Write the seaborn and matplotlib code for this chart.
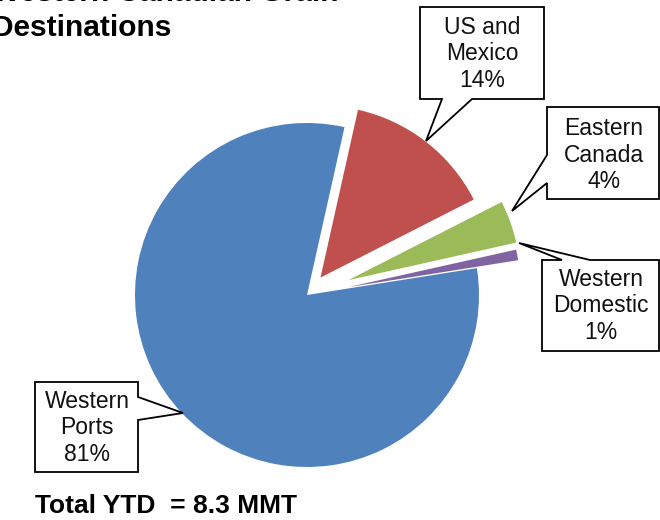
import matplotlib
matplotlib.use("Agg")
import matplotlib.pyplot as plt
from matplotlib.patches import Polygon
import seaborn as sns

# ---- data ----
categories = ["Western Ports", "US and Mexico", "Eastern Canada", "Western Domestic"]
shares = [81, 14, 4, 1]
label_lines = ["Western\nPorts", "US and\nMexico", "Eastern\nCanada", "Western\nDomestic"]
title_lines = ["Western Canadian Grain", "Destinations"]
total_text = "Total YTD  = 8.3 MMT"

sns.set_theme(style="white")
plt.rcParams["font.family"] = ["Liberation Sans", "DejaVu Sans"]

W, H = 660, 520
fig = plt.figure(figsize=(W / 100, H / 100), dpi=100)
ax = fig.add_axes([0, 0, 1, 1])

def Y(y):
    return H - y

colors = ["#4F81BD", "#C0504D", "#9BBB59", "#8064A2"]
explode = [0, 22, 44, 42]

ax.pie(shares, explode=explode, center=(307, Y(295)), radius=172,
       startangle=9, counterclock=False, colors=colors,
       wedgeprops=dict(linewidth=0), frame=False)
ax.set_xlim(0, W)
ax.set_ylim(0, H)
ax.set_aspect("equal")
ax.axis("off")

# callouts (polygon outlines in pixel coords, y down)
callouts = {
    "US and Mexico": dict(
        poly=[(420, 7), (544, 7), (544, 99), (472, 99), (426, 141), (442, 99), (420, 99)],
        text=(482, 54)),
    "Eastern Canada": dict(
        poly=[(547, 107), (659, 107), (659, 199), (547, 199), (547, 183), (512, 211), (547, 155)],
        text=(604, 155)),
    "Western Domestic": dict(
        poly=[(542, 260), (562, 260), (519, 243), (590, 260), (659, 260), (659, 351), (542, 351)],
        text=(601, 306)),
    "Western Ports": dict(
        poly=[(35, 382), (138, 382), (138, 397), (183, 413), (138, 420), (138, 472), (35, 472)],
        text=(87, 428)),
}

for cat, val, lab in zip(categories, shares, label_lines):
    c = callouts[cat]
    pts = [(x, Y(y)) for x, y in c["poly"]]
    ax.add_patch(Polygon(pts, closed=True, facecolor="white", edgecolor="black",
                         linewidth=1.3, zorder=5))
    tx, ty = c["text"]
    ax.text(tx, Y(ty), f"{lab}\n{val}%", ha="center", va="center",
            fontsize=16.5, linespacing=1.2, color="#111111", zorder=6)

# title (top line partly cut off as in the original)
ax.text(-8, Y(0.8), title_lines[0], ha="left", va="baseline", fontsize=21.5,
        fontweight="bold", color="black")
ax.text(-8, Y(36), title_lines[1], ha="left", va="baseline", fontsize=21.5,
        fontweight="bold", color="black")

ax.text(35, Y(513), total_text, ha="left", va="baseline", fontsize=19,
        fontweight="bold", color="black")

fig.savefig("out.png", dpi=100)
